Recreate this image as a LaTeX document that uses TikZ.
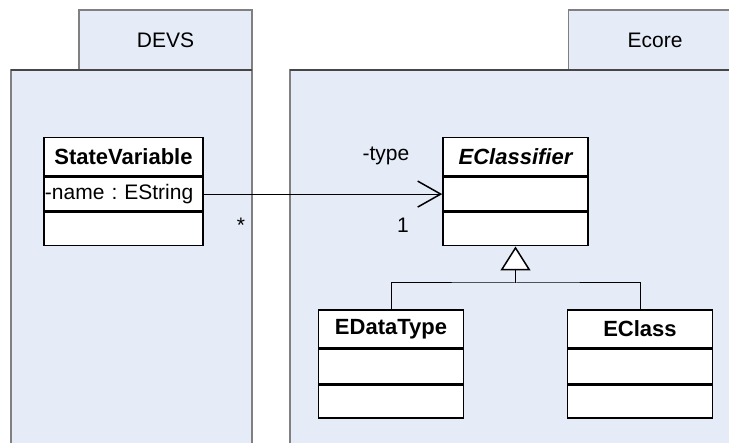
\documentclass[tikz,border=0pt]{standalone}
\usepackage{fontspec}
\setmainfont{Liberation Sans}
\usetikzlibrary{positioning,arrows.meta}
\frenchspacing

\definecolor{pkgfill}{RGB}{229,236,247}
\definecolor{pkgline}{RGB}{128,128,128}
\definecolor{pkgtop}{RGB}{70,70,70}

\begin{document}
\begin{tikzpicture}[x=1pt,y=-1pt,
    every node/.style={font=\fontsize{21}{25}\selectfont},
    pkgtab/.style={rectangle,fill=pkgfill,draw=pkgline,line width=1.2pt,minimum width=173pt,minimum height=60pt},
    cname/.style={rectangle,draw,line width=1.6pt,fill=white,minimum width=145pt,minimum height=38pt,inner sep=0pt,font=\fontsize{22}{26}\selectfont\bfseries},
    cpart/.style={rectangle,draw,line width=1.6pt,fill=white,minimum width=145pt,minimum height=34pt,inner sep=0pt},
    cops/.style={cpart,minimum height=33pt},
    lbl/.style={anchor=base,inner sep=0pt}]

    \useasboundingbox (0,0) rectangle (729,443);
    \clip (0,0) rectangle (729,443);

    % Package DEVS
    \node[pkgtab] (devs) at (165.5,40) {DEVS};
    \fill[pkgfill] (11,70) rectangle (252,460);
    \draw[pkgline,line width=1.2pt] (11,460) -- (11,70) -- (252,70) -- (252,460);
    \draw[pkgtop,line width=1.2pt] (11,70) -- (252,70);

    % Package Ecore
    \node[pkgtab] (ecore) at (655,40) {Ecore};
    \fill[pkgfill] (290,70) rectangle (760,460);
    \draw[pkgline,line width=1.2pt] (290,460) -- (290,70) -- (760,70);
    \draw[pkgtop,line width=1.2pt] (290,70) -- (760,70);

    % Class StateVariable
    \node[cname,minimum width=159pt] (sv) at (123.5,156.5) {StateVariable};
    \node[cpart,minimum width=159pt,text width=157pt,inner xsep=1pt,align=left,below=0pt of sv] (sv-a) {-name : EString};
    \node[cops,minimum width=159pt,below=0pt of sv-a] (sv-o) {};

    % Class EClassifier
    \node[cname,font=\fontsize{22}{26}\selectfont\bfseries\itshape] (ecl) at (515.5,156.5) {EClassifier};
    \node[cpart,below=0pt of ecl] (ecl-a) {};
    \node[cops,below=0pt of ecl-a] (ecl-o) {};

    % Subclasses
    \node[cname] (edt) at (391,329) {EDataType};
    \node[cpart,below=0pt of edt] (edt-a) {};
    \node[cops,below=0pt of edt-a] (edt-o) {};

    \node[cname] (ecls) at (640,329) {EClass};
    \node[cpart,below=0pt of ecls] (ecls-a) {};
    \node[cops,below=0pt of ecls-a] (ecls-o) {};

    % Association
    \draw[line width=1pt,-{Straight Barb[length=23pt,width=26pt,line width=1.5pt]}] (sv-a.east) -- (ecl-a.west);
    \node[lbl] (role) at (386,161) {-type};
    \node[lbl] (mult1) at (403,233) {1};
    \node[lbl] (mult2) at (241,233) {*};

    % Generalization
    \coordinate (gj) at (ecl-o.south |- 0,283);
    \draw[line width=1pt] (edt.north) |- (gj) -| (ecls.north);
    \draw[line width=1pt,-{Triangle[open,length=24pt,width=30pt,line width=1.5pt,fill=white]}] (gj) -- (ecl-o.south);

\end{tikzpicture}
\end{document}
